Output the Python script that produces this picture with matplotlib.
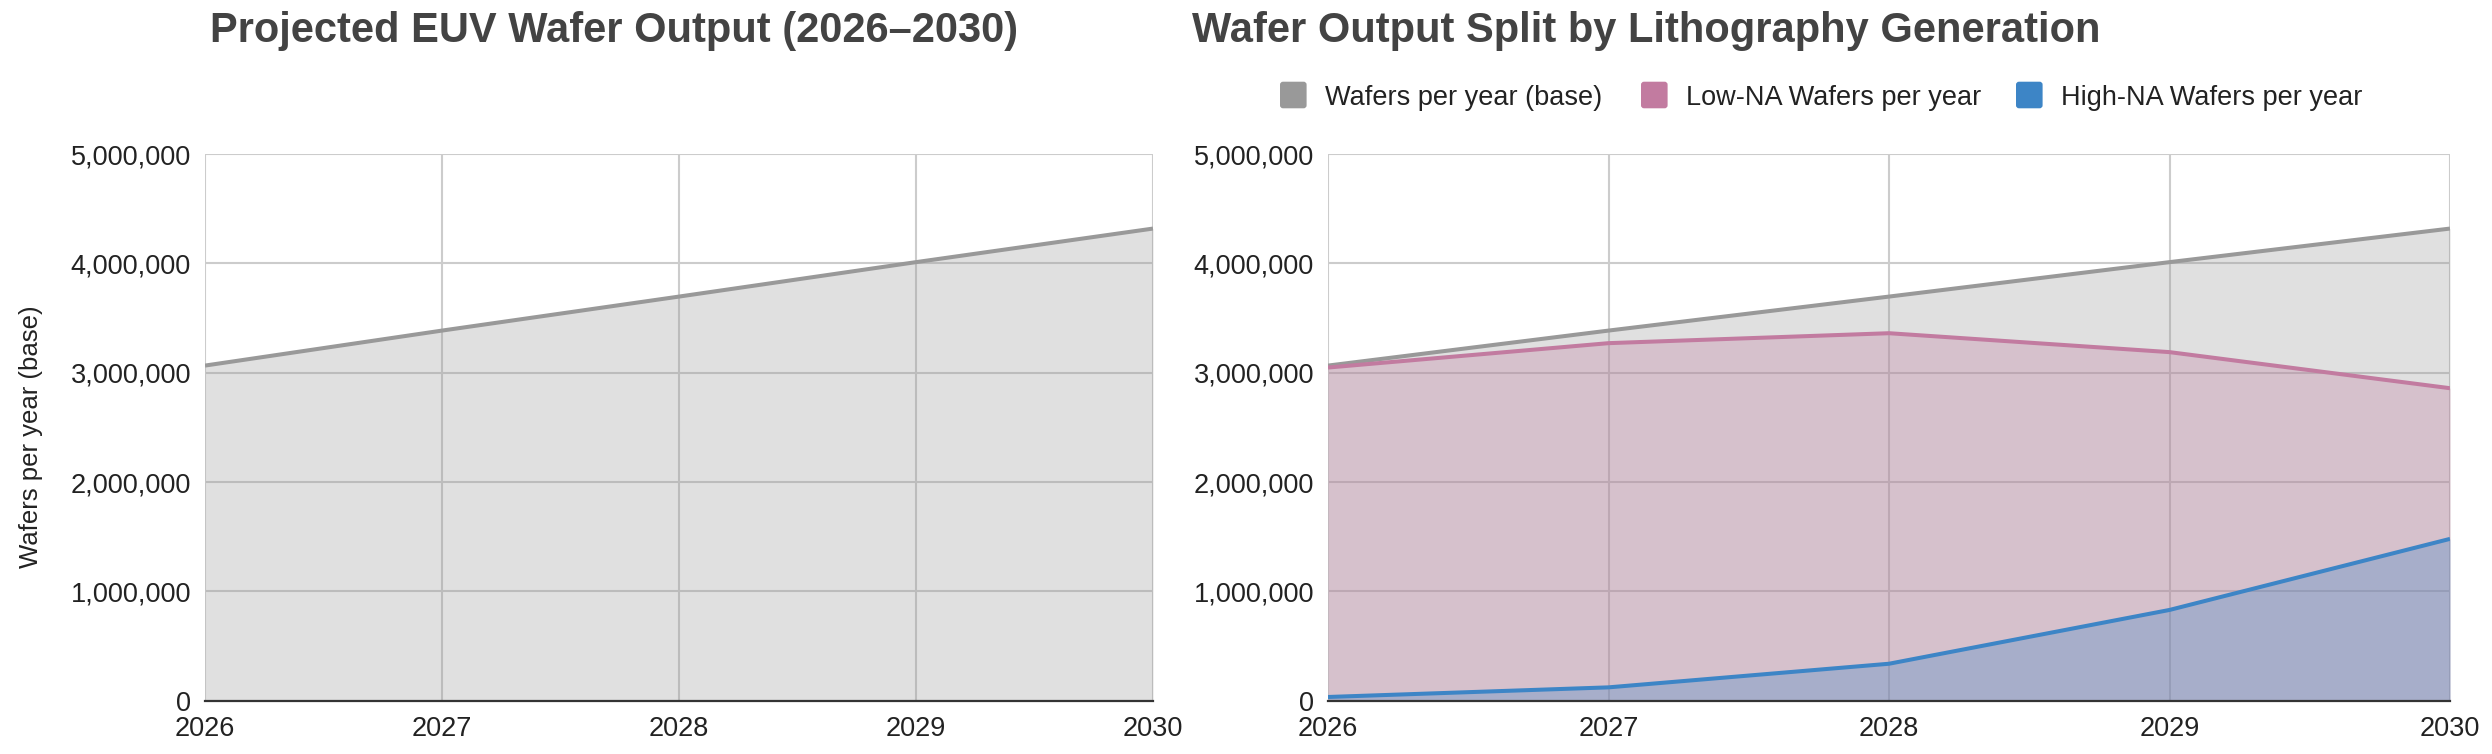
import matplotlib
matplotlib.use("Agg")
import matplotlib.pyplot as plt
from matplotlib.ticker import FuncFormatter
from matplotlib.patches import FancyBboxPatch

### Data ###
years = [2026, 2027, 2028, 2029, 2030]
wafers_base = [3065000, 3385000, 3696000, 4011000, 4318000]
wafers_low_na = [3047000, 3270000, 3361000, 3188000, 2858000]
wafers_high_na = [34000, 122000, 338000, 830000, 1480000]

series_names = ["Wafers per year (base)", "Low-NA Wafers per year", "High-NA Wafers per year"]
series_colors = ["#999999", "#c27ba0", "#3d85c6"]

left_title = "Projected EUV Wafer Output (2026\u20132030)"
right_title = "Wafer Output Split by Lithography Generation"
y_label = "Wafers per year (base)"
y_ticks = [0, 1000000, 2000000, 3000000, 4000000, 5000000]

### Style ###
plt.rcParams['font.family'] = ['Liberation Sans', 'DejaVu Sans']
W, H = 2492, 754
text_color = "#222222"
title_color = "#434343"
grid_color = "#cccccc"

fig = plt.figure(figsize=(W / 100, H / 100), dpi=100)


def frac(x, y):
    # pixel coords (from top-left) -> figure fraction
    return x / W, 1 - y / H


def make_axes(x0, x1, y_top=154, y_bot=700.7):
    left, bottom = frac(x0, y_bot)
    right, top = frac(x1, y_top)
    ax = fig.add_axes([left, bottom, right - left, top - bottom])
    ax.set_xlim(years[0], years[-1])
    ax.set_ylim(0, 5000000)
    ax.set_xticks(years)
    ax.set_yticks(y_ticks)
    ax.yaxis.set_major_formatter(FuncFormatter(lambda v, p: "{:,.0f}".format(v)))
    ax.tick_params(axis='both', length=0, labelsize=19.5, colors=text_color)
    ax.tick_params(axis='y', pad=10)
    ax.tick_params(axis='x', pad=11)
    for s in ax.spines.values():
        s.set_visible(False)
    ax.set_axisbelow(True)
    ax.grid(True, color=grid_color, linewidth=1.5)
    ax.axhline(0, color="#333333", linewidth=1.6, zorder=5, clip_on=False)
    return ax


def draw_area(ax, values, color):
    ax.fill_between(years, 0, values, color=color, alpha=0.3, linewidth=0, zorder=2)
    ax.plot(years, values, color=color, linewidth=2.9, zorder=4, solid_capstyle='butt')


# Left chart
ax1 = make_axes(205, 1153)
draw_area(ax1, wafers_base, series_colors[0])
fig.text(*frac(31, 437), y_label, rotation=90, ha='center', va='center',
         fontsize=18.5, color=text_color)

# Right chart
ax2 = make_axes(1328, 2450)
for vals, col in zip([wafers_base, wafers_low_na, wafers_high_na], series_colors):
    draw_area(ax2, vals, col)

# Titles
fig.text(*frac(210, 41.7), left_title, ha='left', va='baseline', fontsize=30,
         fontweight='bold', color=title_color)
fig.text(*frac(1192, 41.7), right_title, ha='left', va='baseline', fontsize=30,
         fontweight='bold', color=title_color)

# Legend (top of right chart)
box_x = [1280, 1641, 2016]
for bx, name, col in zip(box_x, series_names, series_colors):
    sq = FancyBboxPatch((bx / 100, (H - 108.3) / 100), 0.266, 0.266,
                        boxstyle="round,pad=0,rounding_size=0.03",
                        transform=fig.dpi_scale_trans, facecolor=col, edgecolor='none')
    fig.patches.append(sq)
    fig.text(*frac(bx + 45, 105), name, ha='left', va='baseline', fontsize=19.5,
             color=text_color)

fig.savefig("out.png", dpi=100)
